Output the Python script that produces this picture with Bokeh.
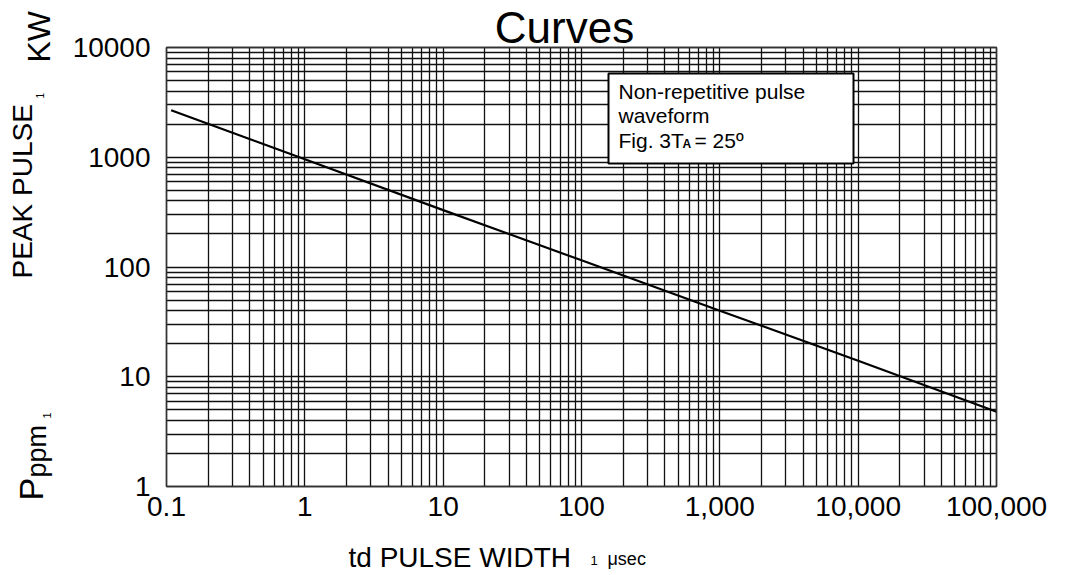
from bokeh.plotting import figure
from bokeh.models import (FixedTicker, Label, BoxAnnotation, ColumnDataSource,
                          LogAxis, Grid, Range1d)
from bokeh.embed import file_html
from bokeh.resources import INLINE
import math

# ---- data ----
pulse_width_us = [0.108, 1, 10, 100, 1000, 10000, 100000]
peak_pulse_kw = [2680, 960, 330, 115, 40, 14, 4.8]

x_ticks = [0.1, 1, 10, 100, 1000, 10000, 100000]
x_tick_labels = ["0.1", "1", "10", "100", "1,000", "10,000", "100,000"]
y_ticks = [1, 10, 100, 1000, 10000]
y_tick_labels = ["1", "10", "100", "1000", "10000"]

FONT = "Liberation Sans"
W, H = 1074, 575
# plot-area placement in pixels (frame spans whole canvas)
PX0, PX1 = 166, 996
PY0, PY1 = 47, 486   # top, bottom

# ranges so that the data box sits at the above pixel positions
xd = math.log10(x_ticks[-1]) - math.log10(x_ticks[0])
xppd = (PX1 - PX0) / xd
yd = math.log10(y_ticks[-1]) - math.log10(y_ticks[0])
yppd = (PY1 - PY0) / yd
x_start = 10 ** (math.log10(x_ticks[0]) - PX0 / xppd)
x_end = 10 ** (math.log10(x_ticks[-1]) + (W - PX1) / xppd)
y_start = 10 ** (math.log10(y_ticks[0]) - (H - PY1) / yppd)
y_end = 10 ** (math.log10(y_ticks[-1]) + PY0 / yppd)

p = figure(width=W, height=H, x_axis_type="log", y_axis_type="log",
           x_range=Range1d(x_start, x_end), y_range=Range1d(y_start, y_end),
           x_axis_location=None, y_axis_location=None,
           output_backend="svg", toolbar_location=None,
           min_border=0)
p.background_fill_color = "white"
p.border_fill_color = "white"
p.outline_line_color = None
p.grid.visible = False


def minors(ticks):
    out = []
    for t in ticks[:-1]:
        for k in range(2, 10):
            out.append(t * k)
    return out


xtk = FixedTicker(ticks=x_ticks, minor_ticks=minors(x_ticks))
ytk = FixedTicker(ticks=y_ticks, minor_ticks=minors(y_ticks))

xg = Grid(dimension=0, ticker=xtk, bounds=(x_ticks[0], x_ticks[-1]),
          cross_bounds=(y_ticks[0], y_ticks[-1]))
yg = Grid(dimension=1, ticker=ytk, bounds=(y_ticks[0], y_ticks[-1]),
          cross_bounds=(x_ticks[0], x_ticks[-1]))
for g in (xg, yg):
    g.grid_line_color = "#111111"
    g.grid_line_width = 1.3
    g.minor_grid_line_color = "#111111"
    g.minor_grid_line_width = 1.3
    p.add_layout(g)

xax = LogAxis(ticker=xtk, fixed_location=y_ticks[0], bounds=(x_ticks[0], x_ticks[-1]))
xax.major_label_overrides = {t: s for t, s in zip(x_ticks, x_tick_labels)}
yax = LogAxis(ticker=ytk, fixed_location=x_ticks[0], bounds=(y_ticks[0], y_ticks[-1]))
yax.major_label_overrides = {t: s for t, s in zip(y_ticks, y_tick_labels)}
for ax in (xax, yax):
    ax.major_tick_line_color = None
    ax.minor_tick_line_color = None
    ax.major_tick_out = 0
    ax.major_tick_in = 0
    ax.minor_tick_out = 0
    ax.minor_tick_in = 0
    ax.axis_line_color = None
    ax.major_label_text_font = FONT
    ax.major_label_text_font_size = "28px"
    ax.major_label_text_color = "black"
xax.major_label_standoff = 10
yax.major_label_standoff = 16
p.add_layout(xax, "below")
p.add_layout(yax, "left")

# plot-area border
frame_box = BoxAnnotation(left=x_ticks[0], right=x_ticks[-1],
                          bottom=y_ticks[0], top=y_ticks[-1],
                          fill_color=None, line_color="#333333",
                          line_alpha=1.0, line_width=1.5)
p.add_layout(frame_box)

src = ColumnDataSource(dict(x=pulse_width_us, y=peak_pulse_kw))
p.line("x", "y", source=src, line_color="black", line_width=2.2)

# note box
box = BoxAnnotation(left=608, right=853, top=H - 73, bottom=H - 163,
                    left_units="screen", right_units="screen",
                    top_units="screen", bottom_units="screen",
                    fill_color="white", fill_alpha=1.0,
                    line_color="black", line_alpha=1.0, line_width=2)
p.add_layout(box)

CAP = 0.358  # the label anchor lands on the cap-height centre


def lab(text, px, py, size, angle=0.0, align="left", bold=False):
    """px, py: baseline position in pixels from the canvas top-left."""
    if angle == 0.0:
        py = py - CAP * size
    else:
        px = px - CAP * size
    l = Label(x=px, y=H - py, x_units="screen", y_units="screen", text=text,
              text_font=FONT, text_font_size=f"{size}px", text_color="black",
              text_align=align, text_baseline="alphabetic", angle=angle,
              text_font_style="bold" if bold else "normal")
    p.add_layout(l)


# box text
lab("Non-repetitive pulse", 618, 99, 21)
lab("waveform", 618, 123, 21)
lab("Fig. 3T", 618, 148, 21)
lab("A", 682, 148, 12, bold=True)
lab("= 25º", 694, 148, 21)

# title
lab("Curves", 564, 43, 44, align="center")

# y-axis label pieces (rotated)
r = math.pi / 2
lab("P", 43, 500, 34, angle=r)
lab("ppm", 46, 477, 27, angle=r)
lab("1", 50, 418, 11, angle=r)
lab("PEAK PULSE", 32, 278, 28, angle=r)
lab("1", 43, 98, 10, angle=r)
lab("KW", 50, 62, 32, angle=r)

# x-axis label pieces
lab("td PULSE WIDTH", 348, 567, 28)
lab("1", 590, 565, 13)
lab("μsec", 607, 565, 18)

open("out.html", "w").write(file_html(p, INLINE))
